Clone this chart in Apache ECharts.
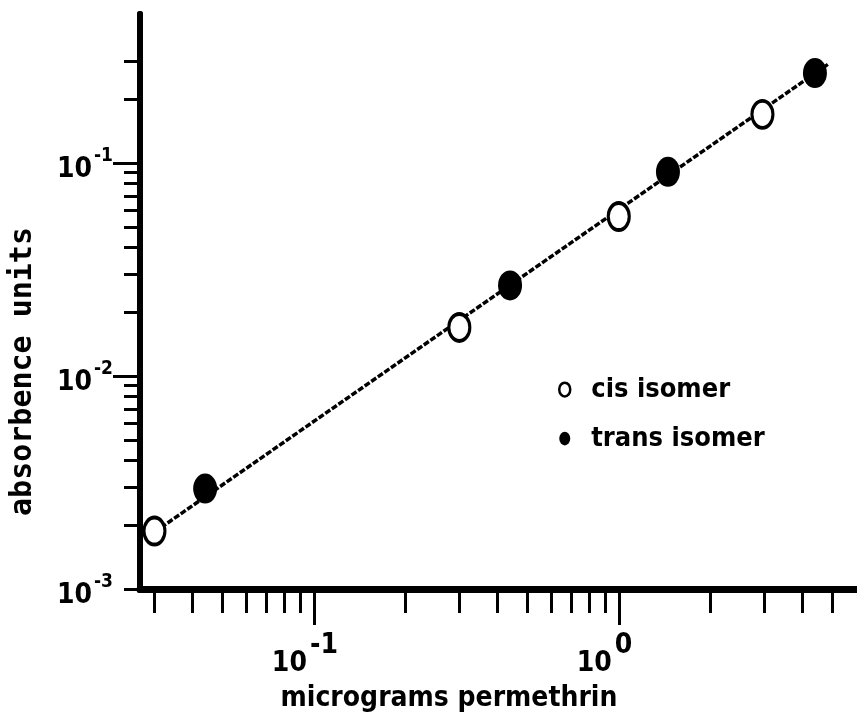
<!DOCTYPE html>
<html><head><meta charset="utf-8">
<script src="https://cdn.jsdelivr.net/npm/echarts@6/dist/echarts.min.js"></script>
<style>html,body{margin:0;padding:0;background:#fff}#c{width:857px;height:713px}</style>
</head><body><div id="c"></div>
<script>
// ---- data ----
const cisX = [0.030, 0.30, 1.00, 2.96];
const cisY = [0.00187, 0.0169, 0.056, 0.169];
const transX = [0.044, 0.44, 1.45, 4.4];
const transY = [0.00296, 0.0266, 0.0908, 0.264];
const fitX = [0.030, 4.85];
const fitY = [0.00185, 0.290];
const seriesNames = ['cis isomer', 'trans isomer'];

// ---- axes ----
const xRange = [0.0269, 6.0];
const yRange = [0.001, 0.5];
const xMajorTicks = [0.1, 1];
const xMinorTicks = [0.03, 0.04, 0.05, 0.06, 0.07, 0.08, 0.09,
  0.2, 0.3, 0.4, 0.5, 0.6, 0.7, 0.8, 0.9, 2, 3, 4, 5];
const yMajorTicks = [0.01, 0.1];
const yMinorTicks = [0.001, 0.002, 0.003, 0.004, 0.005, 0.006, 0.007, 0.008, 0.009,
  0.02, 0.03, 0.04, 0.05, 0.06, 0.07, 0.08, 0.09, 0.2, 0.3];
const xLabelValues = [0.1, 1];
const xLabelExp = ['-1', '0'];
const yLabelValues = [0.001, 0.01, 0.1];
const yLabelExp = ['-3', '-2', '-1'];
const xName = 'micrograms permethrin';
const yName = 'absorbence units';

const FONT = "'Liberation Sans Narrow', 'DejaVu Sans Condensed', sans-serif";
const MONO = "'DejaVu Sans Mono', monospace";
const ELLIPSE = 'path://M0,15 A12,15 0 1,1 24,15 A12,15 0 1,1 0,15 Z';

function pair(xs, ys) { return xs.map((x, i) => [x, ys[i]]); }
function nearestIndex(values, v) {
  let best = 0, bd = Infinity;
  values.forEach((t, i) => { const d = Math.abs(Math.log10(t) - Math.log10(v)); if (d < bd) { bd = d; best = i; } });
  return best;
}
// x tick labels sit a little left of their tick in the original: pad each exponent so that
// the whole (centred) label block has a fixed width
const mctx = document.createElement('canvas').getContext('2d');
mctx.font = 'bold 28px ' + FONT;
const w10 = mctx.measureText('10').width;
const X_BLOCK = 84;
const xRich = {
  b: {fontFamily: FONT, fontSize: 28, fontWeight: 'bold', color: '#000', lineHeight: 46, verticalAlign: 'bottom'}
};
xLabelExp.forEach((e, i) => {
  const we = mctx.measureText(e).width;
  xRich['s' + i] = {fontFamily: FONT, fontSize: 28, fontWeight: 'bold', color: '#000', verticalAlign: 'top',
    padding: [0, Math.max(0, X_BLOCK - 3 - w10 - we), 0, 3]};
});

const chart = echarts.init(document.getElementById('c'), null, {renderer: 'canvas'});
const gridRect = {left: 140, right: 1, top: 14, bottom: 124, outerBoundsMode: 'none', containLabel: false};
const yLine = {show: true, lineStyle: {color: '#000', width: 6}};
const xLine = {show: true, lineStyle: {color: '#000', width: 7}};
const tickStyle = {color: '#000', width: 3};

chart.setOption({
  animation: false,
  backgroundColor: '#fff',
  grid: [Object.assign({}, gridRect), Object.assign({}, gridRect)],
  legend: {
    orient: 'vertical', left: 553, top: 371,
    itemWidth: 11, itemHeight: 17, itemGap: 22,
    textStyle: {fontFamily: FONT, fontSize: 27, fontWeight: 'bold', color: '#000', padding: [0, 0, 0, 16]},
    data: [
      {name: seriesNames[0], icon: ELLIPSE, itemStyle: {color: '#fff', borderColor: '#000', borderWidth: 2.5}},
      {name: seriesNames[1], icon: ELLIPSE, itemStyle: {color: '#000', borderWidth: 0}}
    ]
  },
  xAxis: [
    {
      type: 'log', logBase: 10, gridIndex: 0, min: xRange[0], max: xRange[1],
      axisLine: xLine,
      axisTick: {show: true, length: 36, customValues: xMajorTicks, lineStyle: tickStyle},
      splitLine: {show: false}, minorTick: {show: false},
      axisLabel: {
        show: true, customValues: xLabelValues, margin: 43,
        formatter: v => { const i = nearestIndex(xLabelValues, v); return '{b|10}{s' + i + '|' + xLabelExp[i] + '}'; },
        rich: xRich
      },
      name: xName, nameLocation: 'middle', nameGap: 96,
      nameTextStyle: {fontFamily: FONT, fontSize: 28, fontWeight: 'bold', color: '#000', padding: [0, 98, 0, 0]}
    },
    {
      type: 'log', logBase: 10, gridIndex: 1, min: xRange[0], max: xRange[1],
      axisLine: xLine,
      axisTick: {show: true, length: 24, customValues: xMinorTicks, lineStyle: tickStyle},
      axisLabel: {show: false}, splitLine: {show: false}
    }
  ],
  yAxis: [
    {
      type: 'log', logBase: 10, gridIndex: 0, min: yRange[0], max: yRange[1],
      axisLine: yLine,
      axisTick: {show: true, length: 27, customValues: yMajorTicks, lineStyle: tickStyle},
      splitLine: {show: false}, minorTick: {show: false},
      axisLabel: {
        show: true, customValues: yLabelValues, margin: 27,
        formatter: v => '{b|10}{s|' + yLabelExp[nearestIndex(yLabelValues, v)] + '}',
        rich: {
          b: {fontFamily: FONT, fontSize: 28, fontWeight: 'bold', color: '#000', lineHeight: 42, verticalAlign: 'bottom'},
          s: {fontFamily: FONT, fontSize: 19, fontWeight: 'bold', color: '#000', verticalAlign: 'top', padding: [5, 0, 0, 2]}
        }
      },
      name: yName, nameLocation: 'middle', nameGap: 102, nameRotate: 90,
      nameTextStyle: {fontFamily: MONO, fontSize: 30, fontWeight: 'bold', color: '#000', padding: [0, 140, 0, 0]}
    },
    {
      type: 'log', logBase: 10, gridIndex: 1, min: yRange[0], max: yRange[1],
      axisLine: yLine,
      axisTick: {show: true, length: 16, customValues: yMinorTicks, lineStyle: tickStyle},
      axisLabel: {show: false}, splitLine: {show: false}
    }
  ],
  series: [
    {
      type: 'line', xAxisIndex: 0, yAxisIndex: 0, data: pair(fitX, fitY),
      symbol: 'none', z: 1, silent: true,
      lineStyle: {color: '#000', width: 3.5, type: [6, 2]}
    },
    {
      name: seriesNames[0], type: 'scatter', xAxisIndex: 0, yAxisIndex: 0, z: 3,
      data: pair(cisX, cisY), symbol: ELLIPSE, symbolSize: [21, 27],
      itemStyle: {color: '#fff', borderColor: '#000', borderWidth: 3.5, opacity: 1}
    },
    {
      name: seriesNames[1], type: 'scatter', xAxisIndex: 0, yAxisIndex: 0, z: 3,
      data: pair(transX, transY), symbol: ELLIPSE, symbolSize: [24, 30],
      itemStyle: {color: '#000', opacity: 1}
    }
  ]
});
</script>
</body></html>
